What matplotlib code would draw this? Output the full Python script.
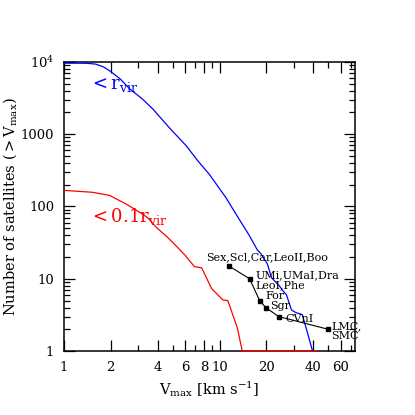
import matplotlib
matplotlib.use("Agg")
import matplotlib.pyplot as plt
from matplotlib.ticker import FixedLocator, NullFormatter, FixedFormatter

# --- data ---
vmax_all = [1.0, 1.4, 1.6, 1.8, 1.97, 2.3, 2.65, 3.2, 3.73, 4.8, 6.12, 7.3, 8.6, 11.0, 13.4,
            15.5, 17.5, 18.5, 20.3, 21.6, 24.2, 25.3, 26.9, 29.0, 31.0, 34.0, 36.6, 39.6]
n_all = [9600, 9550, 9300, 8500, 7500, 5800, 4220, 3050, 2224, 1200, 688, 420, 278, 132, 66,
         40, 25, 22, 16, 10.3, 8.0, 7.0, 6.0, 3.7, 3.4, 3.2, 1.84, 1.0]

vmax_inner = [1.0, 1.53, 1.97, 2.53, 3.07, 3.45, 3.94, 4.6, 5.3, 5.97, 6.9, 7.67,
              8.9, 10.5, 11.3, 13.0, 14.0, 42.0]
n_inner = [167, 157, 142, 107, 83, 70, 51, 38, 28, 21.5, 14.7, 14.2,
           7.3, 5.1, 5.0, 2.1, 1.0, 1.0]

obs_v = [11.5, 15.6, 18.1, 19.8, 24.0, 50.0]
obs_n = [15, 10, 5, 4, 3, 2]
obs_labels = ["Sex,Scl,Car,LeoII,Boo", "UMi,UMaI,Dra\nLeoI,Phe", "For", "Sgr", "CVnI", "LMC,\nSMC"]

xtick_major = [1, 2, 4, 6, 8, 10, 20, 40, 60]
xtick_labels = ["1", "2", "4", "6", "8", "10", "20", "40", "60"]
xtick_minor = [3, 5, 7, 9, 30, 50, 70]
ytick_major = [1, 10, 100, 1000, 10000]
ytick_labels = ["1", "10", "100", "1000", r"$10^4$"]

plt.rcParams['font.family'] = ['DejaVu Serif']
plt.rcParams['mathtext.fontset'] = 'dejavuserif'

fig = plt.figure(figsize=(4.15, 4.15), dpi=100)
ax = fig.add_axes([0.154, 0.154, 0.701, 0.697])
ax.set_xscale('log')
ax.set_yscale('log')
ax.set_xlim(1, 74)
ax.set_ylim(1, 10000)

ax.plot(vmax_all, n_all, color='blue', lw=0.9, zorder=3, clip_on=False)
ax.plot(vmax_inner, n_inner, color='red', lw=0.9, zorder=3, clip_on=False)
ax.plot(obs_v, obs_n, color='black', lw=0.8, marker='s', ms=3.5, zorder=4)

# satellite labels: (log10 offset in v, log10 offset in n)
offsets = [(-0.15, 0.12), (0.04, -0.02), (0.04, 0.06), (0.03, 0.02), (0.045, -0.04), (0.02, -0.02)]
for v, n, lab, (dx, dy) in zip(obs_v, obs_n, obs_labels, offsets):
    ax.text(v * 10**dx, n * 10**dy, lab, fontsize=8, ha='left', va='center', linespacing=0.95)

ax.text(1.45, 4800, r"$<$r$_{\rm vir}$", color='blue', fontsize=13, ha='left', va='center')
ax.text(1.45, 72, r"$<$0.1r$_{\rm vir}$", color='red', fontsize=13, ha='left', va='center')

ax.xaxis.set_major_locator(FixedLocator(xtick_major))
ax.xaxis.set_major_formatter(FixedFormatter(xtick_labels))
ax.xaxis.set_minor_locator(FixedLocator(xtick_minor))
ax.xaxis.set_minor_formatter(NullFormatter())
ax.yaxis.set_major_locator(FixedLocator(ytick_major))
ax.yaxis.set_major_formatter(FixedFormatter(ytick_labels))
ax.yaxis.set_minor_locator(FixedLocator([m * 10**k for k in range(0, 4) for m in range(2, 10)]))
ax.yaxis.set_minor_formatter(NullFormatter())

ax.tick_params(which='both', direction='in', top=True, right=True, width=0.9, labelsize=9.5)
ax.tick_params(which='major', length=8, pad=7)
ax.tick_params(which='minor', length=4)
for s in ax.spines.values():
    s.set_linewidth(1.1)

ax.set_xlabel(r"V$_{\rm max}$ [km s$^{-1}$]", fontsize=10.5, labelpad=4)
ax.set_ylabel(r"Number of satellites ($>$V$_{\rm max}$)", fontsize=10.5, labelpad=1)

fig.savefig("out.png", dpi=100)
